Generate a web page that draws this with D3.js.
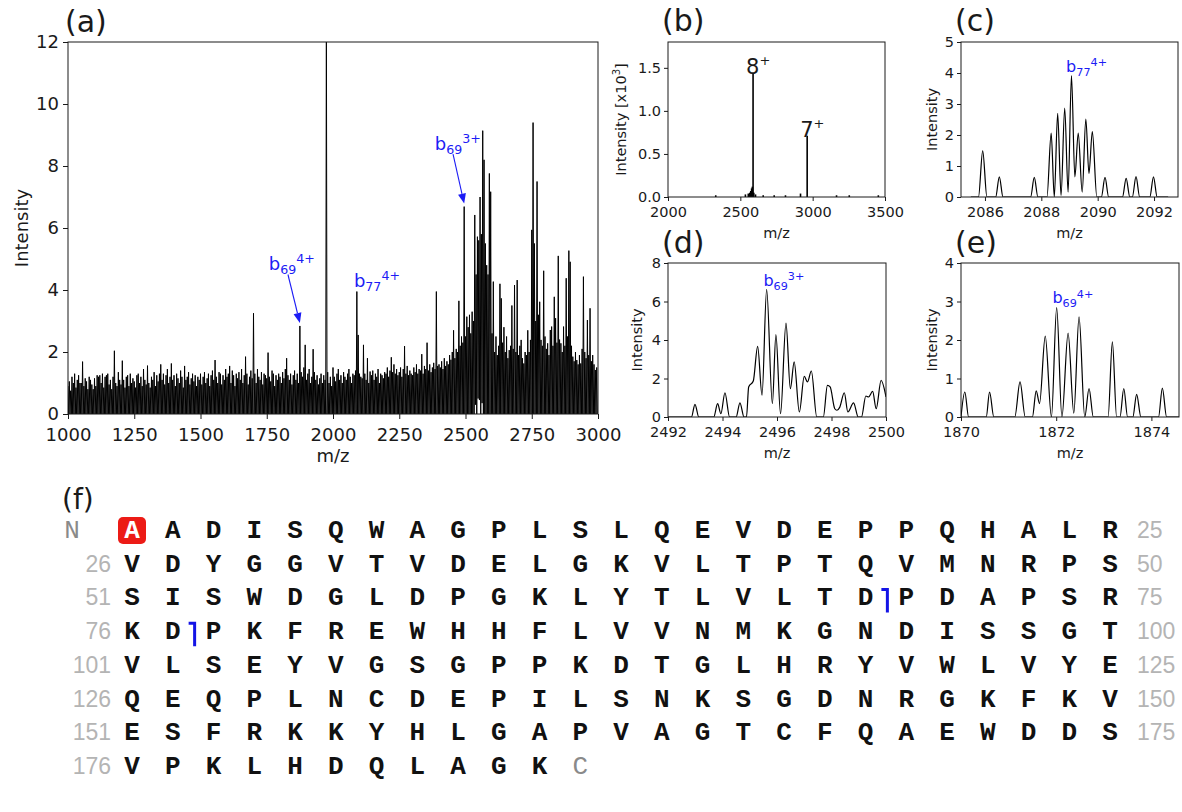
<!DOCTYPE html>
<html>
<head>
<meta charset="utf-8">
<script src="https://cdn.jsdelivr.net/npm/d3@7"></script>
<style>
  body { margin: 0; background: #fff; }
  svg { display: block; }
</style>
</head>
<body>
<svg id="fig" width="1182" height="812"></svg>
<script>
// ---------- (a) full MS/MS spectrum: peak tops every 5 m/z from 1000 to 2995 ----------
const spectrumStart = 1000;
const spectrumStep = 5;
const spectrumPeaks = [
  0.9,1.05,0.75,1.2,1.0,1.3,0.85,1.1,1.25,1.0,
  1.0,1.69,0.9,1.15,1.05,0.8,1.2,1.1,0.95,0.8,
  1.15,0.9,1.25,1.2,1.25,1.0,1.3,0.85,1.2,1.25,
  1.3,0.95,1.1,0.8,1.2,2.04,1.0,0.9,1.35,1.1,
  0.95,1.72,1.1,0.85,1.2,1.25,0.9,1.3,1.0,1.15,
  1.05,0.85,1.25,1.3,1.0,1.2,0.9,1.45,1.1,0.95,
  1.56,1.0,0.85,1.2,1.1,1.35,0.9,1.25,1.05,1.3,
  1.6,1.1,1.3,0.95,1.25,1.45,1.0,1.2,1.63,1.1,
  1.25,0.9,1.3,1.15,1.0,1.4,1.2,0.85,1.55,1.1,
  1.2,1.35,0.95,1.15,1.3,1.05,1.25,0.9,1.2,1.1,
  1.3,0.95,1.2,1.35,1.0,1.15,1.3,0.9,1.25,1.4,
  1.1,1.74,1.2,1.0,1.35,1.3,0.95,1.25,1.1,1.45,
  1.2,1.3,1.55,1.0,1.4,1.25,0.9,1.3,1.15,1.35,
  1.1,1.45,1.0,1.25,1.85,1.3,0.95,1.2,1.4,1.15,
  3.25,1.3,1.0,1.45,1.2,1.1,1.35,0.95,1.3,1.25,
  1.15,1.98,1.2,1.05,1.4,1.3,0.9,1.25,1.1,1.3,
  1.2,1.0,1.35,1.15,1.45,1.8,1.25,1.1,1.3,0.95,
  1.25,1.4,1.1,1.3,1.0,2.84,1.35,1.2,1.5,2.23,
  1.1,1.3,1.45,1.0,1.2,2.09,1.35,1.1,1.25,0.95,
  1.15,1.3,1.0,1.25,1.1,13,1.35,1.0,1.2,0.9,
  1.5,1.2,1.05,1.3,1.45,1.1,1.25,1.0,1.35,1.2,
  1.1,1.3,1.45,1.2,1.0,1.3,1.25,1.4,3.95,2.55,
  1.3,1.2,1.15,2.23,1.3,1.1,1.8,1.0,1.37,1.25,
  1.4,1.1,1.3,1.2,1.45,1.0,1.3,1.25,1.15,1.35,
  1.3,1.5,1.2,1.4,1.83,1.35,1.6,1.3,1.45,1.25,
  1.35,1.5,1.2,1.45,2.19,1.3,1.55,1.25,1.4,1.3,
  1.25,1.5,1.35,1.6,1.3,1.45,1.4,1.93,1.3,1.55,
  1.45,2.3,1.4,1.6,1.35,1.5,1.65,1.45,3.95,1.55,
  1.6,1.5,1.7,1.45,1.8,1.55,1.7,1.6,1.9,1.75,
  2.0,2.7,1.8,2.1,2.0,3.65,2.2,2.5,2.3,6.69,
  2.5,3.14,2.8,3.2,2.6,3.3,3.0,6.42,4.5,5.72,
  5.6,7.0,5.8,9.14,8.2,5.5,4.8,4.5,7.76,7.17,
  2.6,4.27,2.0,2.5,1.9,2.2,4.2,3.73,2.3,2.8,
  2.0,2.5,1.8,2.06,2.2,3.5,2.1,4.16,2.0,4.32,
  1.9,2.2,2.39,1.8,1.63,2.0,1.9,2.7,2.0,2.39,
  5.94,9.4,5.5,3.0,7.5,3.2,3.62,2.39,2.2,4.62,
  2.5,2.1,2.28,1.9,2.71,2.82,2.2,3.78,3.09,2.3,
  5.1,2.4,2.28,2.0,2.82,2.2,4.38,2.5,5.27,4.91,
  2.2,1.85,1.7,2.0,1.74,1.6,1.9,1.63,2.1,4.43,
  2.0,1.8,3.03,1.9,3.41,1.7,1.9,1.6,1.42,1.5
];
// m/z ranges where the signal never falls back to zero between peaks: [from, to, lowest level]
const liftedBaseline = [[2536, 2539, 0.3], [2546, 2549, 0.5], [2551, 2554, 0.45], [2561, 2564, 0.35]];

// fragment annotations in (a): [sub, sup, peak m/z, peak intensity, text m/z, text intensity, arrow start m/z, arrow start intensity]
const fragmentNotes = [
  ['69', '4+', 1875, 2.84, 1758, 4.65, 1830, 4.5],
  ['77', '4+', 2090, 3.95, 2079, 4.1, null, null],
  ['69', '3+', 2495, 6.69, 2384, 8.52, 2453, 8.38]
];

// ---------- (b) precursor spectrum (intensity x10^3) ----------
const precursorMz  = [2330, 2535, 2555, 2565, 2572, 2578, 2583, 2588, 2593, 2605, 2658, 2734, 2812, 2916, 2962, 3165, 3253, 3454];
const precursorInt = [0.02, 0.03, 0.04, 0.05, 0.07, 0.1, 0.12, 1.44, 0.05, 0.03, 0.02, 0.02, 0.02, 0.04, 0.71, 0.02, 0.02, 0.02];
const chargeLabels = [['8', 2588, 1.44], ['7', 2962, 0.71]];

// ---------- (c) b77 4+ isotope cluster ----------
const cMz  = [2085.5, 2085.77, 2085.92, 2086.07, 2086.38, 2086.51, 2086.64, 2087.62, 2087.75, 2087.88,
              2088.2, 2088.35, 2088.46, 2088.58, 2088.7, 2088.83, 2088.95, 2089.07, 2089.19, 2089.31,
              2089.45, 2089.58, 2089.69, 2089.81, 2089.97, 2090.13, 2090.26, 2090.39, 2090.88, 2091.01,
              2091.14, 2091.23, 2091.36, 2091.49, 2091.85, 2091.98, 2092.11, 2092.5];
const cInt = [0, 0, 1.49, 0, 0, 0.65, 0, 0, 0.63, 0,
              0, 2.06, 0, 2.7, 0.05, 2.87, 0.16, 3.92, 0.65, 2.06,
              0.16, 2.51, 0.76, 2.11, 0, 0, 0.63, 0, 0, 0.6,
              0, 0, 0.66, 0, 0, 0.65, 0, 0];

// ---------- (d) b69 3+ isotope cluster ----------
const dMz  = [2492.0, 2492.86, 2492.99, 2493.13, 2493.68, 2493.82, 2493.94, 2494.09, 2494.26, 2494.5,
              2494.64, 2494.79, 2494.88, 2494.96, 2495.13, 2495.29, 2495.45, 2495.62, 2495.83, 2495.96,
              2496.13, 2496.33, 2496.49, 2496.63, 2496.82, 2497.0, 2497.12, 2497.26, 2497.46, 2497.7,
              2497.85, 2497.95, 2498.12, 2498.2, 2498.3, 2498.47, 2498.6, 2498.81, 2498.98, 2499.1,
              2499.26, 2499.36, 2499.51, 2499.64, 2499.82, 2500.0];
const dInt = [0, 0, 0.66, 0, 0, 0.69, 0.17, 1.26, 0, 0,
              0.73, 0, 0, 1.56, 1.87, 3.67, 1.13, 6.63, 0.69, 4.28,
              0.17, 4.88, 1.47, 2.86, 0.26, 2.11, 1.82, 2.39, 0, 0,
              1.64, 1.56, 0.43, 0.35, 0.5, 1.26, 0.26, 0.73, 0, 0,
              1.09, 1.04, 1.33, 0.43, 1.9, 1.04];

// ---------- (e) b69 4+ isotope cluster ----------
const eMz  = [1870.0, 1870.08, 1870.16, 1870.53, 1870.6, 1870.69, 1871.13, 1871.24, 1871.35, 1871.5,
              1871.58, 1871.65, 1871.77, 1871.9, 1872.01, 1872.12, 1872.25, 1872.37, 1872.48, 1872.6,
              1872.69, 1872.78, 1873.09, 1873.18, 1873.27, 1873.34, 1873.42, 1873.5, 1873.61, 1873.69,
              1873.78, 1874.15, 1874.23, 1874.32, 1874.58];
const eInt = [0, 0.65, 0, 0, 0.65, 0, 0, 0.91, 0, 0,
              0.68, 0.35, 2.1, 0, 2.84, 0, 2.18, 0.1, 2.6, 0,
              0.74, 0, 0, 1.95, 0, 0, 0.74, 0, 0, 0.59,
              0, 0, 0.75, 0, 0];

// ---------- (f) protein sequence with observed cleavage sites ----------
const sequence = "AADISQWAGPLSLQEVDEPPQHALRVDYGGVTVDELGKVLTPTQVMNRPSSISWDGLDPGKLYTLVLTDPDAPSRKDPKFREWHHFLVVNMKGNDISSGTVLSEYVGSGPPKDTGLHRYVWLVYEQEQPLNCDEPILSNKSGDNRGKFKVESFRKKYHLGAPVAGTCFQAEWDDSVPKLHDQLAGK";
const residuesPerRow = 25;
const highlightedResidues = [1];
const cleavageAfter = [69, 77];

// ---------- drawing ----------
const svg = d3.select('#fig');
const FONT = '"DejaVu Sans", sans-serif';
const INK = '#1a1a1a';
const BLUE = '#1c1cf5';

function panel(cfg) {
  const x = d3.scaleLinear().domain(cfg.xDomain).range([cfg.left, cfg.right]);
  const y = d3.scaleLinear().domain(cfg.yDomain).range([cfg.bottom, cfg.top]);
  const g = svg.append('g');
  const clipId = 'clip-' + cfg.id;
  svg.append('clipPath').attr('id', clipId).append('rect')
    .attr('x', cfg.left).attr('y', cfg.top)
    .attr('width', cfg.right - cfg.left).attr('height', cfg.bottom - cfg.top);
  const plot = g.append('g').attr('clip-path', `url(#${clipId})`);

  const xa = g.append('g').attr('transform', `translate(0,${cfg.bottom})`)
    .call(d3.axisBottom(x).tickValues(cfg.xTicks).tickFormat(cfg.xFormat)
      .tickSize(cfg.tick).tickPadding(cfg.xPad).tickSizeOuter(0));
  const ya = g.append('g').attr('transform', `translate(${cfg.left},0)`)
    .call(d3.axisLeft(y).tickValues(cfg.yTicks).tickFormat(cfg.yFormat)
      .tickSize(cfg.tick).tickPadding(cfg.yPad).tickSizeOuter(0));
  [xa, ya].forEach(a => {
    a.select('.domain').remove();
    a.attr('font-family', FONT).attr('font-size', cfg.font);
    a.selectAll('line').attr('stroke', INK).attr('stroke-width', 1);
    a.selectAll('text').attr('fill', INK);
  });

  g.append('rect')
    .attr('x', cfg.left).attr('y', cfg.top)
    .attr('width', cfg.right - cfg.left).attr('height', cfg.bottom - cfg.top)
    .attr('fill', 'none').attr('stroke', INK).attr('stroke-width', 1);

  g.append('text')
    .attr('x', (cfg.left + cfg.right) / 2).attr('y', cfg.xLabelY)
    .attr('text-anchor', 'middle').attr('font-family', FONT)
    .attr('font-size', cfg.font).attr('fill', INK).text('m/z');

  const yl = g.append('text')
    .attr('transform', `translate(${cfg.yLabelX},${(cfg.top + cfg.bottom) / 2}) rotate(-90)`)
    .attr('text-anchor', 'middle').attr('font-family', FONT)
    .attr('font-size', cfg.font).attr('fill', INK);
  if (cfg.yLabelSup) {
    yl.append('tspan').text(cfg.yLabel);
    yl.append('tspan').attr('font-size', cfg.font * 0.7).attr('dy', -cfg.font * 0.4).text(cfg.yLabelSup);
    yl.append('tspan').attr('dy', cfg.font * 0.4).text(cfg.yLabelTail);
  } else {
    yl.text(cfg.yLabel);
  }

  svg.append('text')
    .attr('x', cfg.tagX).attr('y', cfg.tagY)
    .attr('font-family', FONT).attr('font-size', 30).attr('fill', INK)
    .text(cfg.tag);

  return { x, y, plot, g };
}

function ionLabel(parent, px, py, sub, sup, size) {
  const t = parent.append('text').attr('x', px).attr('y', py)
    .attr('fill', BLUE).attr('font-family', FONT).attr('font-size', size);
  t.append('tspan').text('b');
  t.append('tspan').attr('font-size', size * 0.7).attr('dy', size * 0.22).text(sub);
  t.append('tspan').attr('font-size', size * 0.7).attr('dy', -size * 0.58).text(sup);
}

function arrow(parent, x1, y1, x2, y2) {
  const dx = x2 - x1, dy = y2 - y1, len = Math.hypot(dx, dy);
  const ux = dx / len, uy = dy / len, head = 10, half = 4;
  const bx = x2 - ux * head, by = y2 - uy * head;
  parent.append('line').attr('x1', x1).attr('y1', y1).attr('x2', bx).attr('y2', by)
    .attr('stroke', BLUE).attr('stroke-width', 1.1);
  parent.append('path')
    .attr('d', `M${x2},${y2}L${bx - uy * half},${by + ux * half}L${bx + uy * half},${by - ux * half}Z`)
    .attr('fill', BLUE);
}

// ----- (a) -----
const A = panel({
  id: 'a', left: 68, right: 598, top: 42, bottom: 414,
  xDomain: [1000, 3000], yDomain: [0, 12],
  xTicks: d3.range(1000, 3001, 250), yTicks: d3.range(0, 13, 2),
  xFormat: d3.format('d'), yFormat: d3.format('d'),
  tick: 5, xPad: 9, yPad: 4, font: 18,
  xLabelY: 462, yLabelX: 28, yLabel: 'Intensity',
  tag: '(a)', tagX: 65, tagY: 32
});
function troughAt(mz) {
  const seg = liftedBaseline.find(s => mz >= s[0] && mz <= s[1]);
  return seg ? seg[2] : 0;
}
const aPoints = [];
spectrumPeaks.forEach((h, i) => {
  const mz = spectrumStart + i * spectrumStep;
  aPoints.push([mz, h]);
  const v = mz + spectrumStep / 2;
  aPoints.push([v, troughAt(v)]);
});
A.plot.append('path')
  .attr('d', d3.line().x(d => A.x(d[0])).y(d => A.y(d[1]))(aPoints))
  .attr('fill', 'none').attr('stroke', '#000').attr('stroke-width', 1);
fragmentNotes.forEach(([sub, sup, pmz, ph, tmz, th, amz, ah]) => {
  ionLabel(A.g, A.x(tmz), A.y(th), sub, sup, 18);
  if (amz !== null) arrow(A.g, A.x(amz), A.y(ah), A.x(pmz), A.y(ph) - 3);
});

// ----- (b) -----
const B = panel({
  id: 'b', left: 668, right: 885, top: 42, bottom: 197,
  xDomain: [2000, 3500], yDomain: [0, 1.8],
  xTicks: [2000, 2500, 3000, 3500], yTicks: [0, 0.5, 1.0, 1.5],
  xFormat: d3.format('d'), yFormat: d3.format('.1f'),
  tick: 4, xPad: 5.5, yPad: 3, font: 14.5,
  xLabelY: 238, yLabelX: 626, yLabel: 'Intensity [x10', yLabelSup: '3', yLabelTail: ']',
  tag: '(b)', tagX: 662, tagY: 31
});
B.plot.selectAll('line.stick').data(precursorMz).join('line')
  .attr('x1', d => B.x(d)).attr('x2', d => B.x(d))
  .attr('y1', B.y(0)).attr('y2', (d, i) => B.y(precursorInt[i]))
  .attr('stroke', '#000').attr('stroke-width', 1.6);
chargeLabels.forEach(([z, mz, h]) => {
  const t = B.g.append('text').attr('x', B.x(mz) - 7).attr('y', B.y(h) + 1)
    .attr('font-family', FONT).attr('font-size', 21).attr('fill', INK);
  t.append('tspan').text(z);
  t.append('tspan').attr('font-size', 13).attr('dy', -9).text('+');
});

// ----- small isotope panels -----
function profile(P, mzs, ints) {
  P.plot.append('path')
    .attr('d', d3.line().curve(d3.curveMonotoneX).x(d => P.x(d[0])).y(d => P.y(d[1]))(mzs.map((m, i) => [m, ints[i]])))
    .attr('fill', 'none').attr('stroke', '#000').attr('stroke-width', 1.2);
}

const C = panel({
  id: 'c', left: 961, right: 1178, top: 42, bottom: 197,
  xDomain: [2085.15, 2092.85], yDomain: [0, 5],
  xTicks: [2086, 2088, 2090, 2092], yTicks: [0, 1, 2, 3, 4, 5],
  xFormat: d3.format('d'), yFormat: d3.format('d'),
  tick: 4, xPad: 5.5, yPad: 3, font: 14.5,
  xLabelY: 238, yLabelX: 937, yLabel: 'Intensity',
  tag: '(c)', tagX: 955, tagY: 31
});
profile(C, cMz, cInt);
ionLabel(C.g, C.x(2088.88), C.y(4.03), '77', '4+', 16);

const D = panel({
  id: 'd', left: 668, right: 886, top: 263, bottom: 417,
  xDomain: [2492, 2500], yDomain: [0, 8],
  xTicks: [2492, 2494, 2496, 2498, 2500], yTicks: [0, 2, 4, 6, 8],
  xFormat: d3.format('d'), yFormat: d3.format('d'),
  tick: 4, xPad: 5.5, yPad: 3, font: 14.5,
  xLabelY: 458, yLabelX: 642, yLabel: 'Intensity',
  tag: '(d)', tagX: 662, tagY: 253
});
profile(D, dMz, dInt);
ionLabel(D.g, D.x(2495.5), D.y(6.8), '69', '3+', 16);

const E = panel({
  id: 'e', left: 961, right: 1179, top: 263, bottom: 417,
  xDomain: [1870, 1874.58], yDomain: [0, 4],
  xTicks: [1870, 1872, 1874], yTicks: [0, 1, 2, 3, 4],
  xFormat: d3.format('d'), yFormat: d3.format('d'),
  tick: 4, xPad: 5.5, yPad: 3, font: 14.5,
  xLabelY: 458, yLabelX: 937, yLabel: 'Intensity',
  tag: '(e)', tagX: 955, tagY: 253
});
profile(E, eMz, eInt);
ionLabel(E.g, E.x(1871.92), E.y(2.95), '69', '4+', 16);

// ----- (f) sequence map -----
svg.append('text').attr('x', 62).attr('y', 509)
  .attr('font-family', FONT).attr('font-size', 28).attr('fill', INK).text('(f)');

const col = d3.scaleLinear().domain([0, residuesPerRow - 1]).range([132, 1110]);
const row = d3.scaleLinear().domain([0, 7]).range([538, 774]);
const nRows = Math.ceil(sequence.length / residuesPerRow);
const seqG = svg.append('g');
const MONO = '"Liberation Mono", "DejaVu Sans Mono", monospace';
const NUMF = '"Liberation Sans", Arial, sans-serif';

const residues = sequence.split('').map((aa, i) => ({
  aa, n: i + 1, r: Math.floor(i / residuesPerRow), c: i % residuesPerRow
}));

// highlighted residue boxes
seqG.selectAll('rect.hl').data(residues.filter(d => highlightedResidues.includes(d.n))).join('rect')
  .attr('x', d => col(d.c) - 14).attr('y', d => row(d.r) - 21)
  .attr('width', 28).attr('height', 27).attr('rx', 5)
  .attr('fill', '#ec1b16');

seqG.selectAll('text.aa').data(residues).join('text')
  .attr('x', d => col(d.c)).attr('y', d => row(d.r))
  .attr('text-anchor', 'middle')
  .attr('font-family', MONO).attr('font-weight', 'bold').attr('font-size', 26)
  .attr('fill', d => highlightedResidues.includes(d.n) ? '#fff' : '#111')
  .text(d => d.aa);

// termini
seqG.append('text').attr('x', 72).attr('y', row(0)).attr('text-anchor', 'middle')
  .attr('font-family', MONO).attr('font-size', 26).attr('fill', '#8a8a8a').text('N');
const last = residues[residues.length - 1];
seqG.append('text').attr('x', col(last.c + 1)).attr('y', row(last.r)).attr('text-anchor', 'middle')
  .attr('font-family', MONO).attr('font-size', 26).attr('fill', '#8a8a8a').text('C');

// row numbers
d3.range(1, nRows).forEach(r => {
  seqG.append('text').attr('x', 111).attr('y', row(r)).attr('text-anchor', 'end')
    .attr('font-family', NUMF).attr('font-size', 23).attr('fill', '#b4b4b4')
    .text(r * residuesPerRow + 1);
});
d3.range(0, nRows).forEach(r => {
  const end = (r + 1) * residuesPerRow;
  if (end > sequence.length) return;
  seqG.append('text').attr('x', 1137).attr('y', row(r)).attr('text-anchor', 'start')
    .attr('font-family', NUMF).attr('font-size', 23).attr('fill', '#b4b4b4')
    .text(end);
});

// cleavage markers between residue n and n+1
cleavageAfter.forEach(n => {
  const d = residues[n - 1];
  const xm = (col(d.c) + col(d.c + 1)) / 2 + 1.5;
  const yb = row(d.r);
  seqG.append('path')
    .attr('d', `M${xm - 6},${yb - 16}L${xm},${yb - 16}L${xm},${yb + 7}`)
    .attr('fill', 'none').attr('stroke', '#1414e6').attr('stroke-width', 3);
});
</script>
</body>
</html>
